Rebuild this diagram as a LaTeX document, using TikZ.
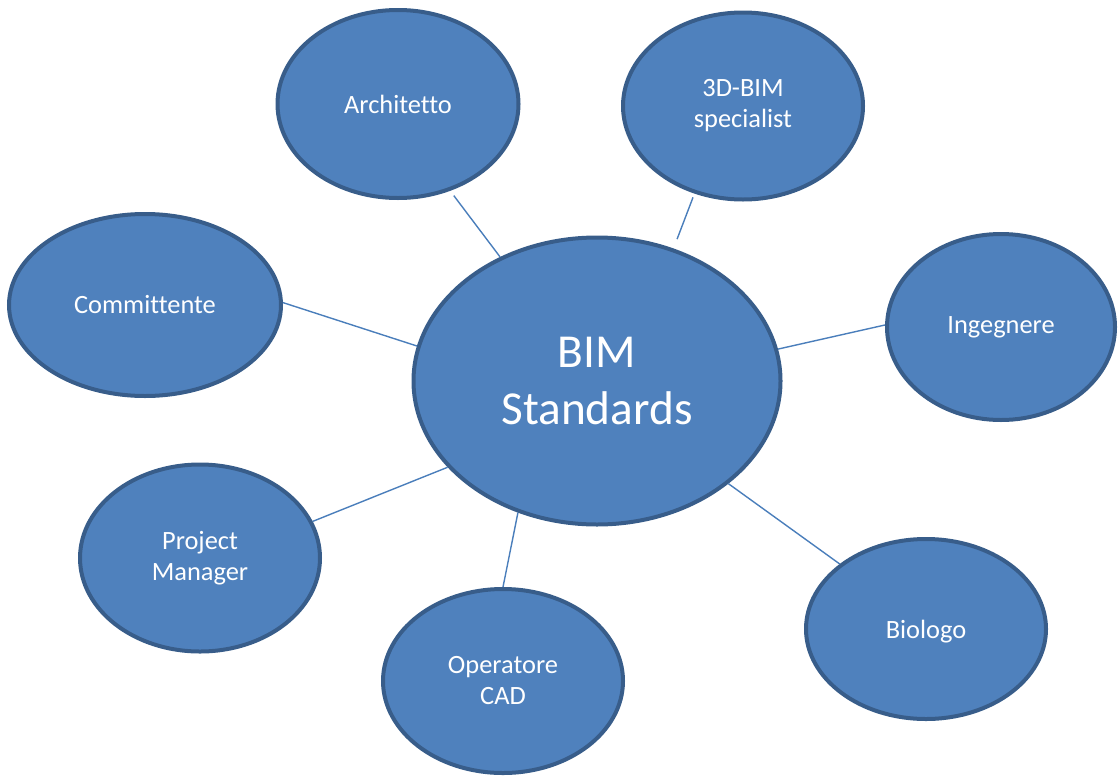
\documentclass[tikz,border=0pt]{standalone}
\usepackage{fontspec}
\setmainfont{Carlito}[Ligatures={NoCommon}]
\usepackage{xcolor}
\usetikzlibrary{shapes.geometric}

\definecolor{bubblefill}{HTML}{4F81BD}
\definecolor{bubbleedge}{HTML}{385D8A}
\definecolor{linkblue}{HTML}{4A7EBB}

\begin{document}
\begin{tikzpicture}[x=1pt, y=-1pt,
    bubble/.style={ellipse, draw=bubbleedge, fill=bubblefill, line width=4pt,
      text=white, align=center, inner sep=0pt,
      font=\fontsize{26.4}{31}\selectfont},
    link/.style={draw=linkblue, line width=1.4pt}]
  \useasboundingbox (0,0) rectangle (1118,779);
  % hub
  \node[bubble, minimum width=367, minimum height=287,
    font=\fontsize{47.3}{57}\selectfont] (bim) at (597,381) {BIM\\Standards};
  % roles around it
  \node[bubble, minimum width=241, minimum height=188] (arch) at (398,104) {Architetto};
  \node[bubble, minimum width=240, minimum height=187] (spec) at (743,106) {3D-BIM\\specialist};
  \node[bubble, minimum width=272, minimum height=182] (comm) at (145,305) {Committente};
  \node[bubble, minimum width=228, minimum height=186] (ing) at (1001,327) {Ingegnere};
  \node[bubble, minimum width=240, minimum height=187] (pm) at (200,558) {Project\\Manager};
  \node[bubble, minimum width=240, minimum height=184] (cad) at (503,681) {Operatore\\CAD};
  \node[bubble, minimum width=240, minimum height=180, text depth=0pt] (bio) at (926,629) {Biologo};
  % links
  \draw[link, shorten <=6pt] (arch.-59) -- (bim.128);
  \draw[link, shorten <=4pt, shorten >=10pt] (spec.241) -- (bim.60);
  \draw[link] (comm.1) -- (bim.169);
  \draw[link] (ing.179) -- (bim.10);
  \draw[link] (pm.18) -- (bim.210);
  \draw[link] (cad.90) -- (bim.239);
  \draw[link] (bio.143) -- (bim.-38);
\end{tikzpicture}
\end{document}
